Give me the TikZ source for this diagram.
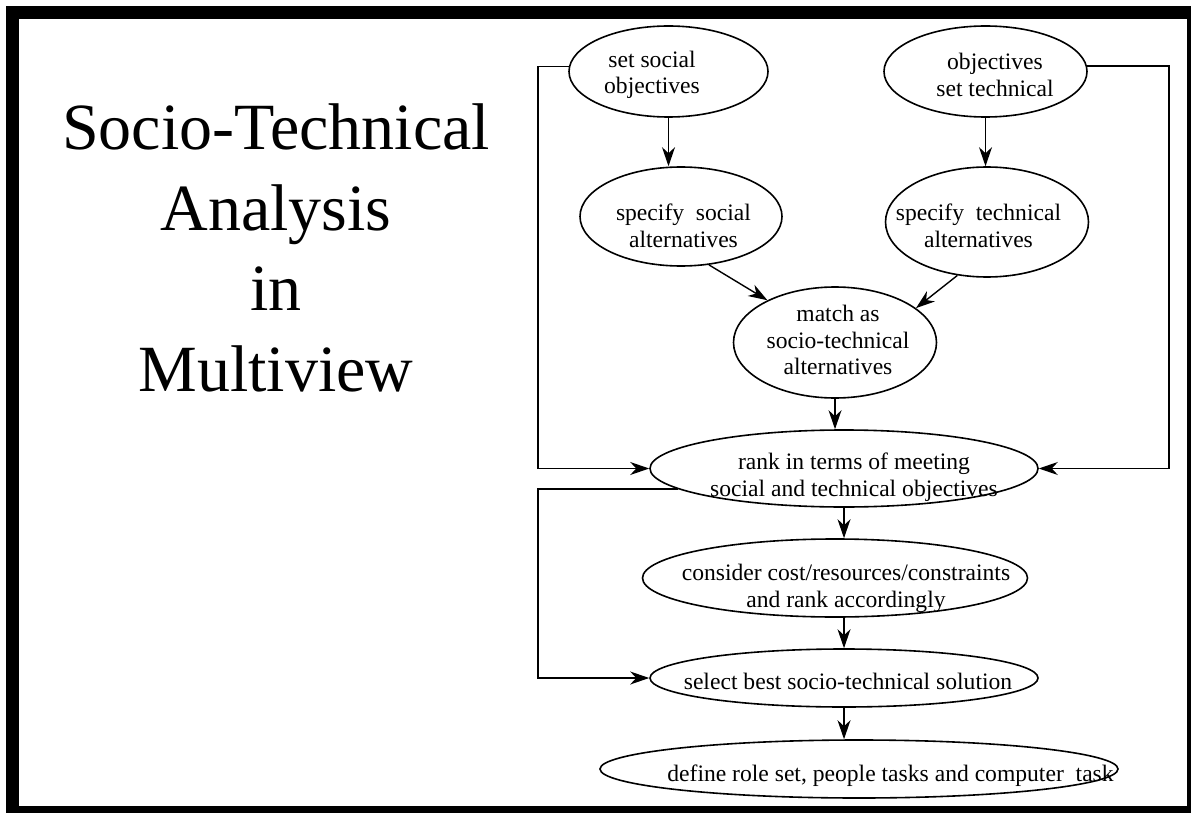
\documentclass[tikz,border=0pt]{standalone}
\usepackage{fontspec}
\setmainfont{Liberation Serif}
\usepackage{tikz}
\usetikzlibrary{positioning,arrows.meta,shapes.geometric}
\tikzset{
  node-ell/.style={draw=black,line width=1.6pt,ellipse,inner sep=0pt},
  node-txt/.style={align=center,inner sep=0pt,font=\fontsize{23.6}{26.5}\selectfont},
  node-title/.style={align=center,inner sep=0pt,font=\fontsize{66}{80.5}\selectfont},
  arrow/.style={-{Stealth[length=19pt,width=13pt,inset=6pt]},line width=1.4pt,draw=black},
}

\begin{document}
\begin{tikzpicture}[x=1pt,y=-1pt]
  \useasboundingbox (0,0) rectangle (1191,813);
  % frame
  \fill[black] (6,6) rectangle (1191,813);
  \fill[white] (19,19) rectangle (1187,806);

  \node[node-title] (title) at (276,248) {Socio-Technical\\Analysis\\in\\Multiview};

  % ellipses
  \node[node-ell,minimum width=199pt,minimum height=91pt] (sso) at (668.5,71.5) {};
  \node[node-ell,minimum width=203pt,minimum height=91pt] (sto) at (985.5,71.5) {};
  \node[node-ell,minimum width=202pt,minimum height=99pt] (ssa) at (681,216.5) {};
  \node[node-ell,minimum width=203pt,minimum height=110pt] (sta) at (987,222) {};
  \node[node-ell,minimum width=203pt,minimum height=111pt] (mst) at (835,342.5) {};
  \node[node-ell,minimum width=388pt,minimum height=77pt] (rnk) at (844,468.5) {};
  \node[node-ell,minimum width=385pt,minimum height=78pt] (csr) at (835,578) {};
  \node[node-ell,minimum width=388pt,minimum height=58pt] (sel) at (844,678) {};
  \node[node-ell,minimum width=518pt,minimum height=58pt] (def) at (859,769) {};

  % texts
  \node[node-txt] (sso-t) at (652,75) {set social\\objectives};
  \node[node-txt] (sto-t) at (995,75) {objectives\\set technical};
  \node[node-txt] (ssa-t) at (683.5,225.6) {specify\ \ social\\alternatives};
  \node[node-txt] (sta-t) at (978.5,225.6) {specify\ \ technical\\alternatives};
  \node[node-txt] (mst-t) at (838,340.2) {match as\\socio-technical\\alternatives};
  \node[node-txt] (rnk-t) at (854,477.2) {rank in terms of meeting\\social and technical objectives};
  \node[node-txt] (csr-t) at (846,588.5) {consider cost/resources/constraints\\and rank accordingly};
  \node[node-txt,anchor=base] (sel-t) at (848,689.3) {select best socio-technical solution};
  \node[node-txt,anchor=base] (def-t) at (890.5,781) {define role set, people tasks and computer\ \ task};

  % connectors
  \coordinate (lrail) at (538,0);
  \coordinate (rrail) at (1169,0);
  \draw[arrow] (sso.south) -- (sso.south |- ssa.north);
  \draw[arrow] (sto.south) -- (sto.south |- sta.north);
  \draw[arrow] (ssa.-60) -- (mst.148);
  \draw[arrow] (sta.-119) -- (mst.23);
  \draw[arrow] (mst.south) -- (mst.south |- rnk.north);
  \draw[arrow] (rnk.south) -- (rnk.south |- csr.north);
  \draw[arrow] (sel.north |- csr.south) -- (sel.north);
  \draw[arrow] (sel.south) -- (sel.south |- def.north);
  \draw[arrow] (sso.177) -- (sso.177 -| lrail) |- (rnk.west);
  \draw[arrow] (sto.3) -- (sto.3 -| rrail) |- (rnk.east);
  \draw[arrow] (rnk.-173) -- (rnk.-173 -| lrail) |- (sel.west);
\end{tikzpicture}
\end{document}
